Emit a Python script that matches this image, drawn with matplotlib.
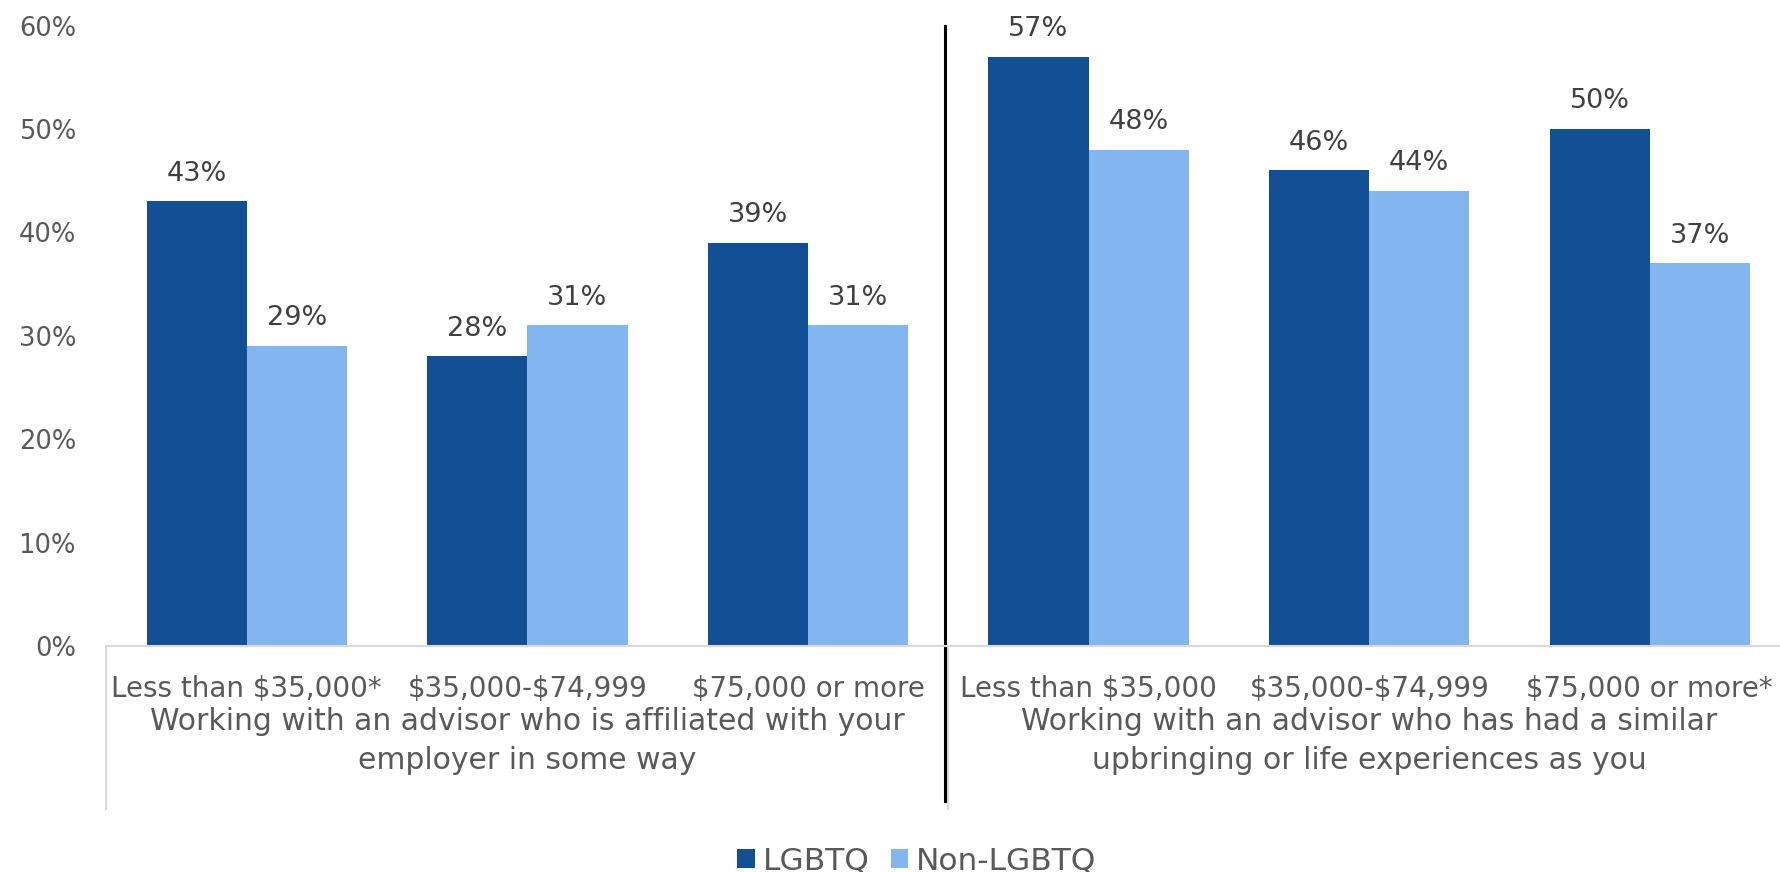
import matplotlib.pyplot as plt

plt.rcParams['font.family'] = ['DejaVu Sans']
plt.rcParams['text.parse_math'] = False

tick_labels = ["Less than $35,000*", "$35,000-$74,999", "$75,000 or more",
               "Less than $35,000", "$35,000-$74,999", "$75,000 or more*"]
group_labels = ["Working with an advisor who is affiliated with your\nemployer in some way",
                "Working with an advisor who has had a similar\nupbringing or life experiences as you"]
lgbtq = [43, 28, 39, 57, 46, 50]
non_lgbtq = [29, 31, 31, 48, 44, 37]

dark = "#124F94"
light = "#83B5EE"
grey_txt = "#595959"
lab_txt = "#404040"
axis_c = "#D9D9D9"

fig = plt.figure(figsize=(17.81, 8.72), dpi=100)
W, H = 1781, 872
# axes placed in pixel terms
left, right_w = 106.5, 6 * 280.6
y0, y60 = 646, 25.6
ax = fig.add_axes([left / W, (H - y0) / H, right_w / W, (y0 - y60) / H])

x = list(range(len(tick_labels)))
bw = 0.357
ax.bar([i - bw / 2 for i in x], [v / 100 for v in lgbtq], bw, color=dark, label="LGBTQ")
ax.bar([i + bw / 2 for i in x], [v / 100 for v in non_lgbtq], bw, color=light, label="Non-LGBTQ")

for i in x:
    ax.annotate(f"{lgbtq[i]}%", (i - bw / 2, lgbtq[i] / 100), xytext=(0, 20),
                textcoords="offset points", ha="center", va="center",
                fontsize=19.5, color=lab_txt, clip_on=False)
    ax.annotate(f"{non_lgbtq[i]}%", (i + bw / 2, non_lgbtq[i] / 100), xytext=(0, 20),
                textcoords="offset points", ha="center", va="center",
                fontsize=19.5, color=lab_txt, clip_on=False)

ax.set_xlim(-0.5, 5.5)
ax.set_ylim(0, 0.6)
ax.set_yticks([0, 0.1, 0.2, 0.3, 0.4, 0.5, 0.6])
ax.set_yticklabels([f"{t}%" for t in range(0, 70, 10)])
ax.tick_params(axis="y", length=0, pad=22, labelsize=18.5, labelcolor=grey_txt)
ax.set_xticks(x)
ax.set_xticklabels(tick_labels)
ax.tick_params(axis="x", length=0, pad=21, labelsize=20, labelcolor=grey_txt)

for s in ["top", "right", "left"]:
    ax.spines[s].set_visible(False)
ax.spines["bottom"].set_color(axis_c)
ax.spines["bottom"].set_linewidth(1.5)

tr = ax.get_xaxis_transform()
# multi-level axis separators
for xs in [-0.5, 2.5, 5.5]:
    ax.plot([xs, xs], [0, -0.263], transform=tr, color=axis_c, lw=1.5, clip_on=False)
# black divider
ax.plot([2.49, 2.49], [1.0, -0.25], transform=tr, color="black", lw=2.2, clip_on=False)

ax.text(1, -0.153, group_labels[0], transform=tr, ha="center", va="center",
        fontsize=21.5, color=grey_txt, linespacing=1.42)
ax.text(4, -0.153, group_labels[1], transform=tr, ha="center", va="center",
        fontsize=21.5, color=grey_txt, linespacing=1.42)

fig.legend(loc="center", bbox_to_anchor=(917 / W, (H - 861) / H), ncol=2, frameon=False,
           fontsize=22.5, labelcolor=grey_txt, handlelength=0.55, handleheight=0.55,
           handletextpad=0.25, columnspacing=0.7)

fig.savefig("out.png", dpi=100)
